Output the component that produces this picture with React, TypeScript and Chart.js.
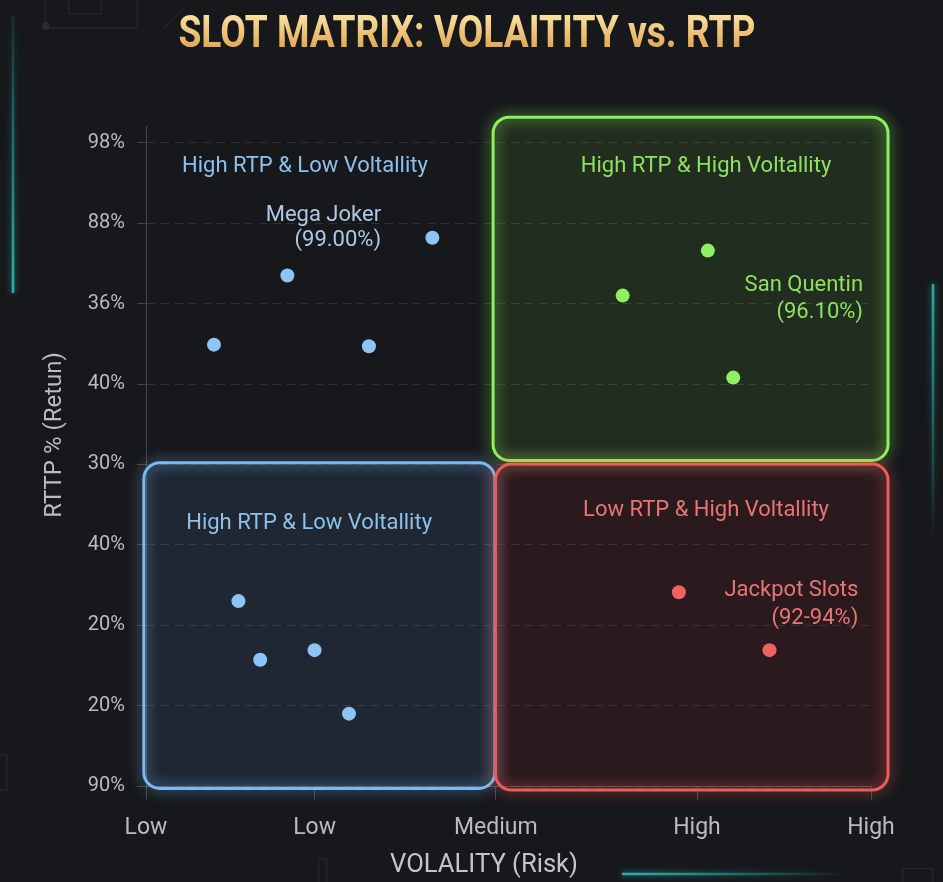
import React, { useEffect, useRef } from "react";
import { Chart, registerables } from "chart.js";

Chart.register(...registerables);

// ---- Axis ticks ----
const yTickLabels = ["90%", "20%", "20%", "40%", "30%", "40%", "36%", "88%", "98%"];
const xTickValues = [0, 0.93, 1.93, 3.04, 4];
const xTickLabels = ["Low", "Low", "Medium", "High", "High"];

// ---- Series (volatility score, RTP index) ----
const topLeftX = [0.375, 0.78, 1.23, 1.58];
const topLeftY = [5.49, 6.35, 5.47, 6.82];
const topRightX = [2.63, 3.1, 3.24];
const topRightY = [6.1, 6.66, 5.08];
const bottomLeftX = [0.51, 0.63, 0.93, 1.12];
const bottomLeftY = [2.3, 1.57, 1.69, 0.9];
const bottomRightX = [2.94, 3.44];
const bottomRightY = [2.41, 1.69];

// ---- Quadrant boxes (data units) ----
const boxXMin = [1.915, -0.012, 1.928];
const boxXMax = [4.094, 1.925, 4.094];
const boxYMin = [4.05, -0.03, -0.05];
const boxYMax = [8.32, 4.02, 4.005];
const boxStroke = ["#8cf25c", "#7cb9f2", "#ef5b5b"];
const boxFill = ["rgba(110,200,60,0.13)", "rgba(90,150,220,0.12)", "rgba(200,40,50,0.12)"];

// ---- Text annotations (data units) ----
const labelTexts = [
  "High RTP & Low Voltallity",
  "Mega Joker",
  "(99.00%)",
  "High RTP & High Voltallity",
  "San Quentin",
  "(96.10%)",
  "High RTP & Low Voltallity",
  "Low RTP & High Voltallity",
  "Jackpot Slots",
  "(92-94%)",
];
const labelX = [0.877, 1.297, 1.297, 3.09, 3.956, 3.956, 0.9, 3.09, 3.93, 3.93];
const labelY = [7.71, 7.1, 6.78, 7.71, 6.23, 5.885, 3.26, 3.43, 2.43, 2.08];
const labelAlign = ["center", "right", "right", "center", "right", "right", "center", "center", "right", "right"];
const labelColor = ["#8fc0ec", "#adc9e6", "#adc9e6", "#8fe060", "#8fe060", "#8fe060", "#8fc0ec", "#e87575", "#e87575", "#e87575"];

const TITLE = "SLOT MATRIX: VOLAITITY vs. RTP";
const Y_TITLE = "RTTP % (Retun)";
const X_TITLE = "VOLALITY (Risk)";

function pts(xs: number[], ys: number[]) {
  return xs.map((x, i) => ({ x, y: ys[i] }));
}

function roundRectPath(ctx: CanvasRenderingContext2D, x: number, y: number, w: number, h: number, r: number) {
  ctx.beginPath();
  ctx.moveTo(x + r, y);
  ctx.lineTo(x + w - r, y);
  ctx.arcTo(x + w, y, x + w, y + r, r);
  ctx.lineTo(x + w, y + h - r);
  ctx.arcTo(x + w, y + h, x + w - r, y + h, r);
  ctx.lineTo(x + r, y + h);
  ctx.arcTo(x, y + h, x, y + h - r, r);
  ctx.lineTo(x, y + r);
  ctx.arcTo(x, y, x + r, y, r);
  ctx.closePath();
}

const decorPlugin = {
  id: "decor",
  beforeDraw(chart: any) {
    const ctx: CanvasRenderingContext2D = chart.ctx;
    ctx.save();
    ctx.fillStyle = "#16181b";
    ctx.fillRect(0, 0, chart.width, chart.height);

    // faint outlines
    ctx.strokeStyle = "rgba(255,255,255,0.06)";
    ctx.lineWidth = 1.5;
    ctx.strokeRect(45.5, -2, 92, 30);
    ctx.strokeRect(68.5, -2, 33, 16);
    ctx.beginPath();
    ctx.moveTo(163, 28);
    ctx.lineTo(185, 8);
    ctx.stroke();
    ctx.fillStyle = "rgba(255,255,255,0.07)";
    ctx.beginPath();
    ctx.arc(45.5, 26, 4, 0, Math.PI * 2);
    ctx.fill();
    ctx.strokeRect(-2, 755, 9, 35);
    ctx.strokeRect(318.5, 858.5, 8, 30);
    ctx.strokeRect(902.5, 868.5, 30, 20);

    // teal accent lines
    ctx.lineWidth = 2.5;
    ctx.shadowColor = "rgba(50,200,195,0.8)";
    ctx.shadowBlur = 6;
    let g = ctx.createLinearGradient(0, 15, 0, 293);
    g.addColorStop(0, "rgba(45,180,176,0.1)");
    g.addColorStop(1, "rgba(45,190,186,0.9)");
    ctx.strokeStyle = g;
    ctx.beginPath();
    ctx.moveTo(13, 15);
    ctx.lineTo(13, 293);
    ctx.stroke();

    g = ctx.createLinearGradient(0, 284, 0, 540);
    g.addColorStop(0, "rgba(45,190,186,0.85)");
    g.addColorStop(1, "rgba(45,190,186,0)");
    ctx.strokeStyle = g;
    ctx.beginPath();
    ctx.moveTo(933, 284);
    ctx.lineTo(933, 540);
    ctx.stroke();

    g = ctx.createLinearGradient(622, 0, 845, 0);
    g.addColorStop(0, "rgba(45,190,186,0.9)");
    g.addColorStop(1, "rgba(45,190,186,0)");
    ctx.strokeStyle = g;
    ctx.beginPath();
    ctx.moveTo(622, 874);
    ctx.lineTo(845, 874);
    ctx.stroke();
    ctx.restore();
  },
  beforeDatasetsDraw(chart: any) {
    const ctx: CanvasRenderingContext2D = chart.ctx;
    const xs = chart.scales.x;
    const ys = chart.scales.y;
    ctx.save();
    for (let i = 0; i < boxStroke.length; i++) {
      const x1 = xs.getPixelForValue(boxXMin[i]);
      const x2 = xs.getPixelForValue(boxXMax[i]);
      const y1 = ys.getPixelForValue(boxYMax[i]);
      const y2 = ys.getPixelForValue(boxYMin[i]);
      roundRectPath(ctx, x1, y1, x2 - x1, y2 - y1, 16);
      ctx.shadowColor = "transparent";
      ctx.shadowBlur = 0;
      ctx.fillStyle = boxFill[i];
      ctx.fill();
      ctx.shadowColor = boxStroke[i];
      ctx.shadowBlur = 14;
      ctx.strokeStyle = boxStroke[i];
      ctx.lineWidth = 3;
      ctx.stroke();
    }
    ctx.restore();
  },
  afterDatasetsDraw(chart: any) {
    const ctx: CanvasRenderingContext2D = chart.ctx;
    const xs = chart.scales.x;
    const ys = chart.scales.y;
    ctx.save();
    ctx.font = "22px Roboto";
    ctx.textBaseline = "middle";
    for (let i = 0; i < labelTexts.length; i++) {
      ctx.textAlign = labelAlign[i] as CanvasTextAlign;
      ctx.fillStyle = labelColor[i];
      ctx.fillText(labelTexts[i], xs.getPixelForValue(labelX[i]), ys.getPixelForValue(labelY[i]));
    }
    ctx.restore();
  },
  afterDraw(chart: any) {
    const ctx: CanvasRenderingContext2D = chart.ctx;
    ctx.save();
    // main title
    const g = ctx.createLinearGradient(0, 14, 0, 48);
    g.addColorStop(0, "#fbe2a4");
    g.addColorStop(1, "#e2a752");
    ctx.fillStyle = g;
    ctx.font = "bold 44px Roboto";
    ctx.textAlign = "center";
    ctx.textBaseline = "alphabetic";
    ctx.fillText(TITLE, 467, 47, 577);

    // x axis title
    ctx.fillStyle = "#c2c6ca";
    ctx.font = "26px Roboto";
    ctx.fillText(X_TITLE, 484, 872, 188);

    // y axis title
    ctx.translate(55, 435);
    ctx.rotate(-Math.PI / 2);
    ctx.font = "24px Roboto";
    ctx.textBaseline = "middle";
    ctx.fillStyle = "#b9bdc1";
    ctx.fillText(Y_TITLE, 0, 0, 166);
    ctx.restore();
  },
};

export default function App() {
  const ref = useRef<HTMLCanvasElement | null>(null);
  useEffect(() => {
    document.body.style.margin = "0";
    document.body.style.background = "#16181b";
    const canvas = ref.current;
    if (!canvas) return;
    const chart = new Chart(canvas, {
      type: "scatter",
      data: {
        datasets: [
          { data: pts(topLeftX, topLeftY), backgroundColor: "#8cc4f4", borderWidth: 0, pointRadius: 7 },
          { data: pts(topRightX, topRightY), backgroundColor: "#8ef060", borderWidth: 0, pointRadius: 7 },
          { data: pts(bottomLeftX, bottomLeftY), backgroundColor: "#8cc4f4", borderWidth: 0, pointRadius: 7 },
          { data: pts(bottomRightX, bottomRightY), backgroundColor: "#f06262", borderWidth: 0, pointRadius: 7 },
        ],
      },
      options: {
        responsive: false,
        animation: false,
        events: [],
        layout: { padding: { left: 0, top: 126, right: 72, bottom: 0 } },
        plugins: {
          legend: { display: false },
          tooltip: { enabled: false },
          title: { display: false },
        },
        scales: {
          x: {
            type: "linear",
            min: 0,
            max: 4,
            afterBuildTicks: (s: any) => {
              s.ticks = xTickValues.map((v) => ({ value: v }));
            },
            afterFit: (s: any) => {
              s.height = 96;
            },
            ticks: {
              autoSkip: false,
              maxRotation: 0,
              padding: 14,
              color: "#b8bcc0",
              font: { family: "Roboto", size: 23 },
              callback: (_v: any, i: number) => xTickLabels[i],
            },
            grid: {
              drawOnChartArea: false,
              drawTicks: true,
              tickLength: 14,
              color: "rgba(255,255,255,0.2)",
            },
            border: { display: true, color: "rgba(255,255,255,0.2)" },
          },
          y: {
            type: "linear",
            min: 0,
            max: 8.21,
            afterBuildTicks: (s: any) => {
              s.ticks = yTickLabels.map((_l, i) => ({ value: i }));
            },
            afterFit: (s: any) => {
              s.width = 146;
            },
            ticks: {
              padding: 12,
              color: "#b8bcc0",
              font: { family: "Roboto", size: 20 },
              callback: (_v: any, i: number) => yTickLabels[i],
            },
            grid: {
              color: "rgba(255,255,255,0.11)",
              tickColor: "rgba(255,255,255,0.2)",
              tickLength: 9,
              tickBorderDash: [],
            },
            border: { display: true, color: "rgba(255,255,255,0.2)", dash: [8, 6] },
          },
        },
      },
      plugins: [decorPlugin],
    } as any);
    return () => chart.destroy();
  }, []);
  return (
    <div style={{ width: 943, height: 882, position: "relative" }}>
      <canvas ref={ref} width={943} height={882} style={{ display: "block" }} />
    </div>
  );
}
